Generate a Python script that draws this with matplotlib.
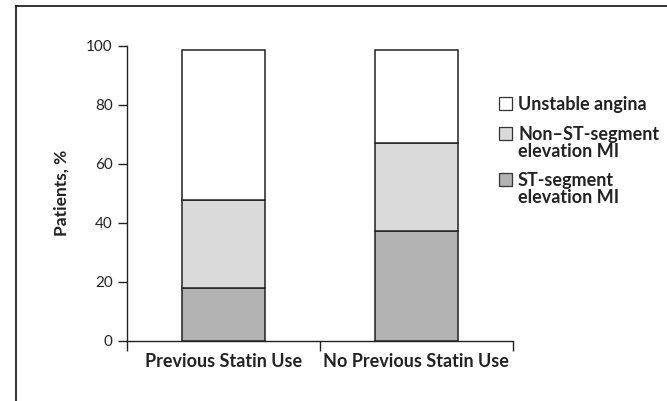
import matplotlib
matplotlib.use("Agg")
import matplotlib.pyplot as plt
from matplotlib.patches import Rectangle
from matplotlib.lines import Line2D

categories = ["Previous Statin Use", "No Previous Statin Use"]
stemi = [17.8, 37.1]
nstemi = [29.9, 29.9]
unstable = [50.8, 31.5]
series_labels = ["Unstable angina", "Non\u2013ST-segment\nelevation MI", "ST-segment\nelevation MI"]
yticks = [0, 20, 40, 60, 80, 100]

plt.rcParams['font.family'] = ['Lato', 'DejaVu Sans']

c_st = "#b3b3b3"
c_nst = "#dadada"
c_ua = "#ffffff"
ink = "#222222"

W, H = 667, 401
fig = plt.figure(figsize=(W / 100, H / 100), dpi=100)
ax = fig.add_axes([126.7 / W, 1 - 340.5 / H, (513 - 126.7) / W, (340.5 - 45.7) / H])

x = list(range(len(categories)))
w = 0.427
lw = 1.1
b1 = [0] * len(x)
ax.bar(x, stemi, w, bottom=b1, color=c_st, edgecolor=ink, linewidth=lw, zorder=3)
b2 = [a for a in stemi]
ax.bar(x, nstemi, w, bottom=b2, color=c_nst, edgecolor=ink, linewidth=lw, zorder=3)
b3 = [a + b for a, b in zip(stemi, nstemi)]
ax.bar(x, unstable, w, bottom=b3, color=c_ua, edgecolor=ink, linewidth=lw, zorder=3)

ax.set_xlim(-0.5, 1.5)
ax.set_ylim(0, 100)
ax.set_yticks(yticks)
ax.set_yticklabels([str(t) for t in yticks], fontsize=11, color=ink)
ax.set_xticks([-0.5, 0.5, 1.5])
ax.set_xticklabels([])
ax.set_xticks(x, minor=True)
ax.set_xticklabels(categories, minor=True, fontsize=13, fontweight="bold", color=ink)
ax.tick_params(axis="x", which="minor", length=0, pad=9)
ax.tick_params(axis="x", which="major", direction="out", length=7, width=1, color=ink)
ax.tick_params(axis="y", direction="out", length=6.5, width=1, color=ink, pad=3.5)
for s in ["top", "right"]:
    ax.spines[s].set_visible(False)
for s in ["left", "bottom"]:
    ax.spines[s].set_linewidth(1)
    ax.spines[s].set_color(ink)
ax.set_ylabel("Patients, %", fontsize=12.5, fontweight="bold", labelpad=12, color=ink)

# legend (manual, squares aligned with the first line of each label)
leg_colors = [c_ua, c_nst, c_st]
first_baselines = [110, 140, 186]
line_step = 17
for lab, col, yb in zip(series_labels, leg_colors, first_baselines):
    fig.add_artist(Rectangle((499 / W, 1 - yb / H), 13 / W, 13 / H, transform=fig.transFigure,
                             facecolor=col, edgecolor="#333333", linewidth=0.9))
    for i, line in enumerate(lab.split("\n")):
        fig.text(518 / W, 1 - (yb + i * line_step) / H, line, fontsize=13, fontweight="bold",
                 color=ink, ha="left", va="baseline")

# figure frame (top and left lines)
fig.add_artist(Line2D([15.7 / W, 1.0], [1 - 6 / H, 1 - 6 / H], transform=fig.transFigure, color=ink, linewidth=1.3))
fig.add_artist(Line2D([15.7 / W, 15.7 / W], [0.0, 1 - 6 / H], transform=fig.transFigure, color=ink, linewidth=1.3))

fig.savefig("out.png", dpi=100)
